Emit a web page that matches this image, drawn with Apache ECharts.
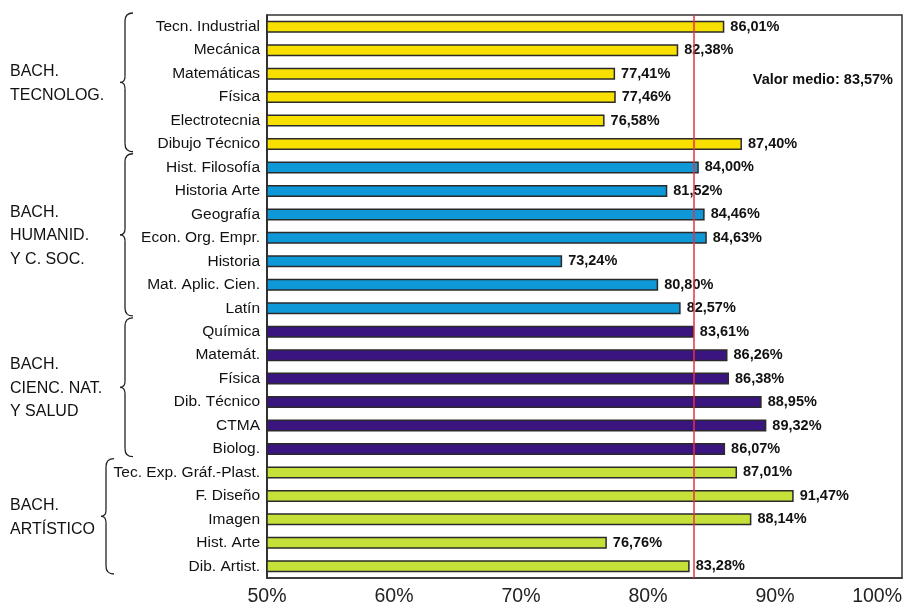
<!DOCTYPE html>
<html>
<head>
<meta charset="utf-8">
<script src="https://cdn.jsdelivr.net/npm/echarts@6/dist/echarts.min.js"></script>
<style>
  html, body { margin: 0; padding: 0; background: #fff; }
  #chart { width: 915px; height: 609px; }
</style>
</head>
<body>
<div id="chart"></div>
<script>
// data
const tecnSubjects = ['Tecn. Industrial', 'Mecánica', 'Matemáticas', 'Física', 'Electrotecnia', 'Dibujo Técnico'];
const tecnValues = [86.01, 82.38, 77.41, 77.46, 76.58, 87.40];

const humSubjects = ['Hist. Filosofía', 'Historia Arte', 'Geografía', 'Econ. Org. Empr.', 'Historia', 'Mat. Aplic. Cien.', 'Latín'];
const humValues = [84.00, 81.52, 84.46, 84.63, 73.24, 80.80, 82.57];

const cienSubjects = ['Química', 'Matemát.', 'Física', 'Dib. Técnico', 'CTMA', 'Biolog.'];
const cienValues = [83.61, 86.26, 86.38, 88.95, 89.32, 86.07];

const artSubjects = ['Tec. Exp. Gráf.-Plast.', 'F. Diseño', 'Imagen', 'Hist. Arte', 'Dib. Artist.'];
const artValues = [87.01, 91.47, 88.14, 76.76, 83.28];

const groupNames = ['BACH.\nTECNOLOG.', 'BACH.\nHUMANID.\nY C. SOC.', 'BACH.\nCIENC. NAT.\nY SALUD', 'BACH.\nARTÍSTICO'];
const groupColors = ['#f7df00', '#0f98d8', '#3a1580', '#c6e03a'];
const meanValue = 83.57;
const xTicks = [50, 60, 70, 80, 90, 100];

const groups = [
  [tecnSubjects, tecnValues],
  [humSubjects, humValues],
  [cienSubjects, cienValues],
  [artSubjects, artValues]
];

let categories = [];
let barData = [];
groups.forEach((g, gi) => {
  g[0].forEach((name, i) => {
    categories.push(name);
    barData.push({ value: g[1][i], itemStyle: { color: groupColors[gi] } });
  });
});

const fmt = v => v.toFixed(2).replace('.', ',') + '%';

var myChart = echarts.init(document.getElementById('chart'));

option = {
  animation: false,
  textStyle: { fontFamily: 'Liberation Sans' },
  grid: {
    left: 267, right: 13, top: 15, bottom: 31,
    outerBoundsMode: 'none',
    show: true, borderColor: '#333', borderWidth: 1.5
  },
  xAxis: {
    type: 'value',
    min: xTicks[0],
    max: xTicks[xTicks.length - 1],
    interval: 10,
    axisLine: { show: true, lineStyle: { color: '#333', width: 1.5 } },
    axisTick: { show: false },
    splitLine: { show: false },
    axisLabel: { formatter: '{value}%', fontSize: 19.5, color: '#222', margin: 9, alignMaxLabel: 'right' }
  },
  yAxis: {
    type: 'category',
    inverse: true,
    data: categories,
    axisLine: { lineStyle: { color: '#222', width: 1.5 } },
    axisTick: { length: 5, lineStyle: { color: '#222' } },
    axisLabel: { fontSize: 15.5, color: '#111', margin: 7 }
  },
  series: [{
    type: 'bar',
    data: barData,
    barWidth: 12,
    itemStyle: { borderColor: '#2a2a2a', borderWidth: 1.5 },
    label: {
      show: true,
      position: 'right',
      distance: 6,
      formatter: p => fmt(p.value),
      fontWeight: 'bold',
      fontSize: 14.5,
      color: '#111'
    },
    markLine: {
      silent: true,
      symbol: 'none',
      label: { show: false },
      lineStyle: { color: '#e3334a', width: 1.5, type: 'solid' },
      data: [{ xAxis: meanValue }]
    }
  }]
};

myChart.setOption(option);

// braces and group titles, placed from the category axis
const band = myChart.convertToPixel({ yAxisIndex: 0 }, 1) - myChart.convertToPixel({ yAxisIndex: 0 }, 0);
const braceX = [125, 125, 125, 106];
const braceStyle = { stroke: '#222', lineWidth: 1.3, fill: null };
let graphics = [];
let start = 0;
groups.forEach((g, gi) => {
  const n = g[0].length;
  const y1 = myChart.convertToPixel({ yAxisIndex: 0 }, start) - band / 2 - 2;
  const y2 = myChart.convertToPixel({ yAxisIndex: 0 }, start + n - 1) + band / 2 - 4;
  const ym = (y1 + y2) / 2;
  const x = braceX[gi];
  const c = 8;
  graphics.push(
    { type: 'bezierCurve', shape: { x1: x + c, y1: y1, cpx1: x, cpy1: y1, x2: x, y2: y1 + c }, style: braceStyle },
    { type: 'line', shape: { x1: x, y1: y1 + c, x2: x, y2: ym - 6 }, style: braceStyle },
    { type: 'bezierCurve', shape: { x1: x, y1: ym - 6, cpx1: x, cpy1: ym, x2: x - 5, y2: ym }, style: braceStyle },
    { type: 'bezierCurve', shape: { x1: x - 5, y1: ym, cpx1: x, cpy1: ym, x2: x, y2: ym + 6 }, style: braceStyle },
    { type: 'line', shape: { x1: x, y1: ym + 6, x2: x, y2: y2 - c }, style: braceStyle },
    { type: 'bezierCurve', shape: { x1: x, y1: y2 - c, cpx1: x, cpy1: y2, x2: x + c, y2: y2 }, style: braceStyle }
  );
  graphics.push({
    type: 'text',
    left: 10,
    top: ym - groupNames[gi].split('\n').length * 23.5 / 2 + 1,
    style: {
      text: groupNames[gi],
      font: '16px "Liberation Sans"',
      lineHeight: 23.5,
      fill: '#111'
    }
  });
  start += n;
});

graphics.push({
  type: 'text',
  right: 22,
  top: 72,
  style: {
    text: 'Valor medio: ' + fmt(meanValue),
    font: 'bold 14.5px "Liberation Sans"',
    fill: '#111'
  }
});

myChart.setOption({ graphic: graphics });
</script>
</body>
</html>
